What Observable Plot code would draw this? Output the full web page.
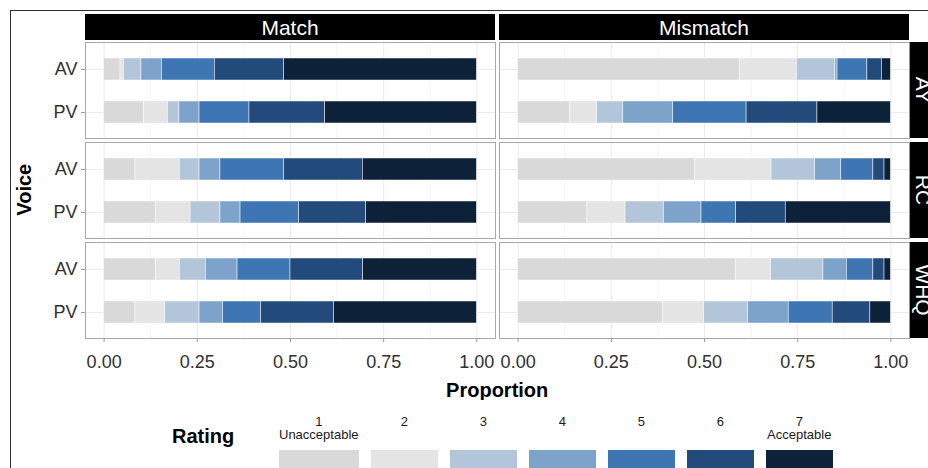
<!DOCTYPE html>
<html>
<head>
<meta charset="utf-8">
<script src="https://cdn.jsdelivr.net/npm/d3@7"></script>
<script src="https://cdn.jsdelivr.net/npm/@observablehq/plot@0.6"></script>
<style>
  html, body { margin: 0; padding: 0; background: #fff; width: 928px; height: 468px; overflow: hidden; }
  body { position: relative; font-family: "Liberation Sans", Arial, sans-serif; }
  #outer { position: absolute; left: 10px; top: 10px; width: 1000px; height: 1000px; border: 1px solid #333; box-sizing: border-box; pointer-events: none; }
  #chart { position: absolute; left: 0; top: 0; }
  #legend { position: absolute; left: 172px; top: 415px; display: flex; align-items: flex-start; }
  #legend .title { width: 107px; margin-top: 11px; font-weight: bold; font-size: 20px; line-height: 20px; color: #000; }
  #legend .items { display: flex; gap: 12.5px; }
  #legend .item { display: flex; flex-direction: column; min-width: 66.5px; }
  #legend .lab { height: 26px; font-size: 13px; line-height: 13px; white-space: pre-line; text-align: center; color: #1a1a1a; margin-bottom: 9px; }
  #legend .sw { height: 30px; width: 100%; }
</style>
</head>
<body>
<div id="chart"></div>
<div id="legend"></div>
<div id="outer"></div>
<script>
// ---- data ----
const conditions = ["Match", "Mismatch"];
const sentenceTypes = ["AY", "RC", "WHQ"];
const voices = ["AV", "PV"];
const ratings = ["1", "2", "3", "4", "5", "6", "7"];
const ratingLabels = ["1\nUnacceptable", "2", "3", "4", "5", "6", "7\nAcceptable"];
const ratingColors = ["#d9d9d9", "#e4e4e4", "#b3c6d9", "#7ea3cb", "#3d76b2", "#224a7b", "#0d2139"];
const xTicks = [0, 0.25, 0.5, 0.75, 1];
const xMinorTicks = [0.125, 0.375, 0.625, 0.875];

// proportions of ratings 1..7; first row AV, second row PV
const match_AY    = [[0.044, 0.009, 0.047, 0.055, 0.142, 0.186, 0.517],
                     [0.107, 0.064, 0.031, 0.054, 0.134, 0.203, 0.407]];
const mismatch_AY = [[0.596, 0.152, 0.103, 0.006, 0.080, 0.039, 0.024],
                     [0.139, 0.073, 0.070, 0.134, 0.197, 0.190, 0.197]];
const match_RC    = [[0.084, 0.119, 0.053, 0.056, 0.171, 0.211, 0.306],
                     [0.139, 0.093, 0.080, 0.054, 0.157, 0.180, 0.297]];
const mismatch_RC = [[0.475, 0.205, 0.117, 0.070, 0.086, 0.030, 0.017],
                     [0.186, 0.102, 0.103, 0.101, 0.093, 0.133, 0.282]];
const match_WHQ   = [[0.139, 0.064, 0.070, 0.085, 0.142, 0.195, 0.305],
                     [0.084, 0.080, 0.092, 0.063, 0.102, 0.196, 0.383]];
const mismatch_WHQ= [[0.584, 0.095, 0.140, 0.063, 0.071, 0.030, 0.017],
                     [0.389, 0.110, 0.118, 0.109, 0.118, 0.101, 0.055]];

const panels = [
  ["Match", "AY", match_AY], ["Mismatch", "AY", mismatch_AY],
  ["Match", "RC", match_RC], ["Mismatch", "RC", mismatch_RC],
  ["Match", "WHQ", match_WHQ], ["Mismatch", "WHQ", mismatch_WHQ]
];
const data = [];
for (const [condition, type, rows] of panels) {
  rows.forEach((vals, vi) => {
    vals.forEach((v, ri) => data.push({condition, type, voice: voices[vi], rating: ratings[ri], value: v}));
  });
}

const textColor = "#303030";

const plot = Plot.plot({
  width: 928,
  height: 400,
  marginLeft: 85,
  marginRight: 18.6,
  marginTop: 41,
  marginBottom: 61.5,
  style: {fontFamily: "'Liberation Sans', Arial, sans-serif", background: "transparent"},
  fx: {domain: conditions, paddingInner: 0.0089, paddingOuter: 0, axis: null},
  fy: {domain: sentenceTypes, paddingInner: 0.04, paddingOuter: 0, axis: null},
  x: {domain: [-0.05, 1.05]},
  y: {domain: voices, paddingInner: 0.5, paddingOuter: 0.35},
  color: {domain: ratings, range: ratingColors},
  marks: [
    Plot.ruleX(xMinorTicks, {x: d => d, stroke: "#efefef", strokeWidth: 0.6}),
    Plot.ruleX(xTicks, {x: d => d, stroke: "#ebebeb", strokeWidth: 1}),
    Plot.ruleY(voices, {y: d => d, stroke: "#ebebeb", strokeWidth: 1}),
    Plot.barX(data, Plot.stackX({
      x: "value", y: "voice", fill: "rating", fx: "condition", fy: "type",
      stroke: "#ffffff", strokeWidth: 0.6, strokeOpacity: 0.8
    })),
    Plot.frame({stroke: "#a8a8a8", strokeWidth: 1}),
    Plot.axisX({ticks: xTicks, tickFormat: d3.format(".2f"), tickSize: 4, tickPadding: 13, fontSize: 18,
      label: null, stroke: "#9a9a9a", fill: textColor}),
    Plot.axisY({tickSize: 4, tickPadding: 4, fontSize: 18, label: null, stroke: "#9a9a9a", fill: textColor})
  ]
});
document.getElementById("chart").appendChild(plot);

// facet strips and axis titles, placed with the plot's facet scales
const svg = d3.select(plot);
const fx = plot.scale("fx"), fy = plot.scale("fy");
const fxRange = fx.range, fyRange = fy.range;
const top0 = Math.min(...fyRange);
const right0 = Math.max(...fxRange);
const g = svg.append("g").attr("font-family", "'Liberation Sans', Arial, sans-serif");
for (const c of conditions) {
  const x0 = fx.apply(c);
  g.append("rect").attr("x", x0).attr("y", top0 - 27).attr("width", fx.bandwidth).attr("height", 26).attr("fill", "#000");
  g.append("text").attr("x", x0 + fx.bandwidth / 2).attr("y", top0 - 13.5).attr("dy", "0.35em")
    .attr("text-anchor", "middle").attr("fill", "#fff").attr("font-size", 21).text(c);
}
for (const t of sentenceTypes) {
  const y0 = fy.apply(t);
  g.append("rect").attr("x", right0 + 0.5).attr("y", y0).attr("width", 26).attr("height", fy.bandwidth).attr("fill", "#000");
  g.append("text").attr("transform", `translate(${right0 + 13.5},${y0 + fy.bandwidth / 2}) rotate(90)`)
    .attr("dy", "0.35em").attr("text-anchor", "middle").attr("fill", "#fff").attr("font-size", 21).text(t);
}
g.append("text").attr("x", (fxRange[0] + fxRange[1]) / 2).attr("y", 397).attr("text-anchor", "middle")
  .attr("font-size", 20).attr("font-weight", "bold").attr("fill", "#000").text("Proportion");
g.append("text").attr("transform", `translate(31,${(fyRange[0] + fyRange[1]) / 2}) rotate(-90)`)
  .attr("text-anchor", "middle").attr("font-size", 20).attr("font-weight", "bold").attr("fill", "#000").text("Voice");

// legend
const legend = d3.select("#legend");
legend.append("div").attr("class", "title").text("Rating");
const items = legend.append("div").attr("class", "items").selectAll("div").data(ratings).join("div").attr("class", "item");
items.append("div").attr("class", "lab").text((d, i) => ratingLabels[i]);
items.append("div").attr("class", "sw").style("background", (d, i) => ratingColors[i]);
</script>
</body>
</html>
